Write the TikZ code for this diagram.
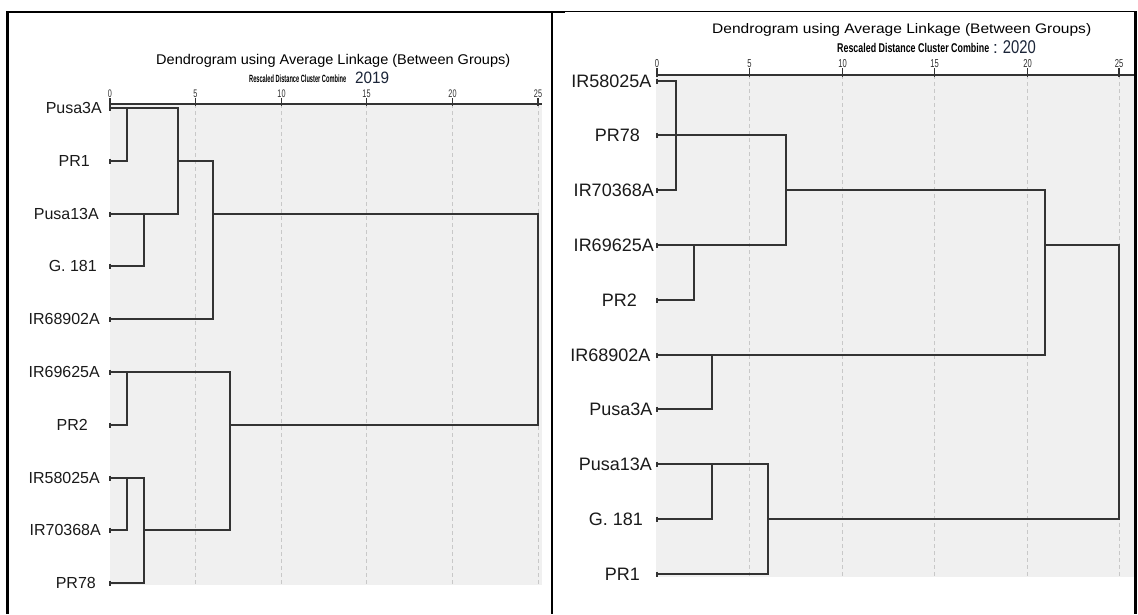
\documentclass[tikz,border=0pt]{standalone}
\usepackage{fontspec}
\setmainfont{Liberation Sans}
\usepackage{graphicx}
\definecolor{bggray}{HTML}{F0F0F0}
\definecolor{gridc}{HTML}{C8C8C8}
\definecolor{linec}{HTML}{333333}
\definecolor{labc}{HTML}{1A1A1A}
\definecolor{numc}{HTML}{303030}
\definecolor{yearc}{HTML}{1B2538}
\newcommand{\axn}[1]{\scalebox{0.66}[1]{#1}}
\begin{document}
\begin{tikzpicture}[x=1pt,y=-1pt,
  dline/.style={draw=linec,line width=1.7pt,line join=miter},
  tickl/.style={draw=linec,line width=1.2pt},
  gridl/.style={draw=gridc,line width=1pt,dash pattern=on 4pt off 3pt},
  axline/.style={draw=linec,line width=1.7pt},
  frameline/.style={draw=black,line width=2.2pt},
  leafL/.style={anchor=base east,inner sep=0pt,text=labc,font=\fontsize{16}{16}\selectfont},
  leafR/.style={anchor=base east,inner sep=0pt,text=labc,font=\fontsize{18}{18}\selectfont},
  axnumL/.style={anchor=south,inner sep=0pt,text=numc,font=\fontsize{11}{11}\selectfont},
  axnumR/.style={anchor=south,inner sep=0pt,text=numc,font=\fontsize{11.5}{11.5}\selectfont},
  ttl/.style={anchor=base west,inner sep=0pt,text=black}
]
\useasboundingbox (0,0) rectangle (1138,614);
\fill[white] (0,0) rectangle (1138,614);

%================ LEFT PANEL (2019) ================
\coordinate (LbgA) at (110,104);
\coordinate (LbgB) at (542,585);
\fill[bggray] (LbgA) rectangle (LbgB);
\coordinate (Lbot) at (110,585);
\coordinate (Laxend) at (542,104);
% axis levels
\coordinate (Lt0) at (110,104);
\coordinate (Lt5) at (195.5,104);
\coordinate (Lt10) at (281.5,104);
\coordinate (Lt15) at (366.5,104);
\coordinate (Lt20) at (452.5,104);
\coordinate (Lt25) at (538,104);
\coordinate (Ld1) at (127,104);
\coordinate (Ld2) at (144,104);
\coordinate (Ld4) at (178,104);
\coordinate (Ld6) at (213,104);
\coordinate (Ld7) at (230,104);
\coordinate (Ld25) at (538,104);
\foreach \t in {5,10,15,20,25} \draw[gridl] (Lt\t) -- (Lt\t |- Lbot);
\draw[axline] (Lt0) -- (Laxend);
\foreach \t in {0,5,10,15,20,25}{
  \draw[tickl] ([yshift=6pt]Lt\t) -- ([yshift=-1.5pt]Lt\t);
  \node[axnumL] (Lnum\t) at ([yshift=6.5pt]Lt\t) {\axn{\t}};
}
% leaves
\coordinate (La0) at (110,108);
\coordinate (La1) at (110,161);
\coordinate (La2) at (110,214);
\coordinate (La3) at (110,266);
\coordinate (La4) at (110,319);
\coordinate (La5) at (110,372);
\coordinate (La6) at (110,425);
\coordinate (La7) at (110,478);
\coordinate (La8) at (110,530);
\coordinate (La9) at (110,583);
\foreach \k in {0,...,9} \draw[tickl] ([yshift=2.5pt]La\k) -- ([yshift=-2.5pt]La\k);
\node[leafL] (Llab0) at (102,113.2) {Pusa3A};
\node[leafL] (Llab1) at (90,166.2) {PR1};
\node[leafL] (Llab2) at (99,219.2) {Pusa13A};
\node[leafL] (Llab3) at (97,271.2) {G. 181};
\node[leafL] (Llab4) at (100,324.2) {IR68902A};
\node[leafL] (Llab5) at (100,377.2) {IR69625A};
\node[leafL] (Llab6) at (88,430.2) {PR2};
\node[leafL] (Llab7) at (100,483.2) {IR58025A};
\node[leafL] (Llab8) at (101,535.2) {IR70368A};
\node[leafL] (Llab9) at (96,588.2) {PR78};
% tree
\draw[dline] (La1) -- (Ld1 |- La1) -- (Ld1 |- La0);
\draw[dline] (La0) -- (Ld4 |- La0) -- (Ld4 |- La2) -- (La2);
\draw[dline] (La3) -- (Ld2 |- La3) -- (Ld2 |- La2);
\draw[dline] (Ld4 |- La1) -- (Ld6 |- La1) -- (Ld6 |- La4) -- (La4);
\draw[dline] (Ld6 |- La2) -- (Ld25 |- La2) -- (Ld25 |- La6) -- (Ld7 |- La6);
\draw[dline] (La6) -- (Ld1 |- La6) -- (Ld1 |- La5);
\draw[dline] (La8) -- (Ld1 |- La8) -- (Ld1 |- La7);
\draw[dline] (La7) -- (Ld2 |- La7) -- (Ld2 |- La9) -- (La9);
\draw[dline] (Ld2 |- La8) -- (Ld7 |- La8) -- (Ld7 |- La5) -- (La5);
% titles
\node[ttl] (Ltitle) at (156,64.5) {\resizebox{354pt}{10.2pt}{Dendrogram using Average Linkage (Between Groups)}};
\node[ttl] (Lsub) at (249,82.5) {\resizebox{97pt}{7.6pt}{\bfseries Rescaled Distance Cluster Combine}};
\node[ttl,text=yearc] (Lyear) at (355,83) {\resizebox{34pt}{11.5pt}{2019}};

%================ RIGHT PANEL (2020) ================
\coordinate (RbgA) at (656,75);
\coordinate (RbgB) at (1134.5,577);
\fill[bggray] (RbgA) rectangle (RbgB);
\coordinate (Rbot) at (657,577);
\coordinate (Raxend) at (1134.5,75);
\coordinate (Rt0) at (657,75);
\coordinate (Rt5) at (749.5,75);
\coordinate (Rt10) at (842.5,75);
\coordinate (Rt15) at (934.5,75);
\coordinate (Rt20) at (1027.5,75);
\coordinate (Rt25) at (1119,75);
\coordinate (Rd1) at (676,75);
\coordinate (Rd2) at (694,75);
\coordinate (Rd3) at (712,75);
\coordinate (Rd6) at (768,75);
\coordinate (Rd7) at (786,75);
\coordinate (Rd21) at (1045,75);
\coordinate (Rd25) at (1119,75);
\foreach \t in {5,10,15,20,25} \draw[gridl] (Rt\t) -- (Rt\t |- Rbot);
\draw[axline] (Rt0) -- (Raxend);
\foreach \t in {0,5,10,15,20,25}{
  \draw[tickl] ([yshift=7pt]Rt\t) -- ([yshift=-1.5pt]Rt\t);
  \node[axnumR] (Rnum\t) at ([yshift=7.5pt]Rt\t) {\axn{\t}};
}
\coordinate (Ra0) at (657,81);
\coordinate (Ra1) at (657,135);
\coordinate (Ra2) at (657,190);
\coordinate (Ra3) at (657,245);
\coordinate (Ra4) at (657,300);
\coordinate (Ra5) at (657,355);
\coordinate (Ra6) at (657,409);
\coordinate (Ra7) at (657,464);
\coordinate (Ra8) at (657,519);
\coordinate (Ra9) at (657,574);
\foreach \k in {0,...,9} \draw[tickl] ([yshift=2.5pt]Ra\k) -- ([yshift=-2.5pt]Ra\k);
\node[leafR] (Rlab0) at (651.7,87.3) {IR58025A};
\node[leafR] (Rlab1) at (640,141.3) {PR78};
\node[leafR] (Rlab2) at (654,196.3) {IR70368A};
\node[leafR] (Rlab3) at (654,251.3) {IR69625A};
\node[leafR] (Rlab4) at (637,306.3) {PR2};
\node[leafR] (Rlab5) at (650.7,361.3) {IR68902A};
\node[leafR] (Rlab6) at (652.7,415.3) {Pusa3A};
\node[leafR] (Rlab7) at (652,470.3) {Pusa13A};
\node[leafR] (Rlab8) at (643,525.3) {G. 181};
\node[leafR] (Rlab9) at (640,580.3) {PR1};
\draw[dline] (Ra0) -- (Rd1 |- Ra0) -- (Rd1 |- Ra2) -- (Ra2);
\draw[dline] (Ra1) -- (Rd7 |- Ra1) -- (Rd7 |- Ra3) -- (Ra3);
\draw[dline] (Ra4) -- (Rd2 |- Ra4) -- (Rd2 |- Ra3);
\draw[dline] (Rd7 |- Ra2) -- (Rd21 |- Ra2) -- (Rd21 |- Ra5) -- (Ra5);
\draw[dline] (Ra6) -- (Rd3 |- Ra6) -- (Rd3 |- Ra5);
\draw[dline] (Rd21 |- Ra3) -- (Rd25 |- Ra3) -- (Rd25 |- Ra8) -- (Rd6 |- Ra8);
\draw[dline] (Ra7) -- (Rd6 |- Ra7) -- (Rd6 |- Ra9) -- (Ra9);
\draw[dline] (Ra8) -- (Rd3 |- Ra8) -- (Rd3 |- Ra7);
\node[ttl] (Rtitle) at (712,33.8) {\resizebox{379pt}{10pt}{Dendrogram using Average Linkage (Between Groups)}};
\node[ttl] (Rsub) at (837,52.5) {\resizebox{152pt}{9.2pt}{\bfseries Rescaled Distance Cluster Combine}};
\node[ttl,text=yearc,font=\fontsize{17}{17}\selectfont] (Rcolon) at (993,53.6) {:};
\node[ttl,text=yearc] (Ryear) at (1002.6,53.6) {\resizebox{33pt}{12.9pt}{2020}};

%================ FRAME ================
\coordinate (FtlA) at (6.4,12);
\coordinate (FtlB) at (565,12);
\coordinate (FtrA) at (565,11.3);
\coordinate (FtrB) at (1136,11.3);
\draw[frameline] (FtlA) -- (FtlB);
\draw[draw=black,line width=1.4pt] (FtrA) -- (FtrB);
\draw[frameline] (7.5,12) -- (7.5,614);
\draw[frameline] (551.7,12) -- (551.7,614);
\draw[frameline] (1135.5,11) -- (1135.5,614);
\end{tikzpicture}
\end{document}
